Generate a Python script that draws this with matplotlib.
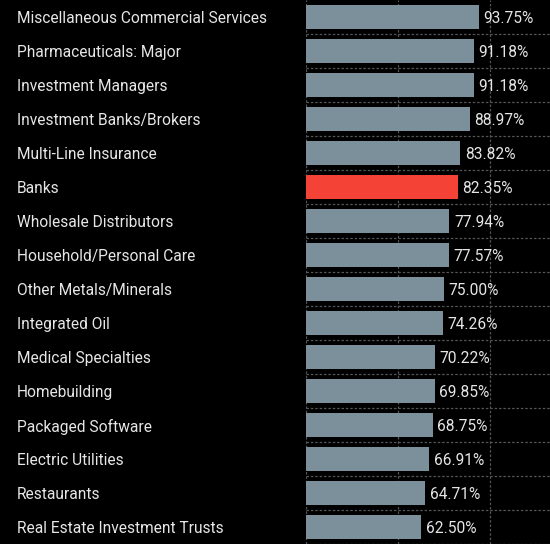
import matplotlib.pyplot as plt
from matplotlib.transforms import blended_transform_factory
import numpy as np

categories = ['Miscellaneous Commercial Services', 'Pharmaceuticals: Major',
              'Investment Managers', 'Investment Banks/Brokers',
              'Multi-Line Insurance', 'Banks', 'Wholesale Distributors',
              'Household/Personal Care', 'Other Metals/Minerals',
              'Integrated Oil', 'Medical Specialties', 'Homebuilding',
              'Packaged Software', 'Electric Utilities', 'Restaurants',
              'Real Estate Investment Trusts']
values = [93.75, 91.18, 91.18, 88.97, 83.82, 82.35, 77.94, 77.57,
          75.00, 74.26, 70.22, 69.85, 68.75, 66.91, 64.71, 62.50]
highlight = 'Banks'

plt.rcParams['font.family'] = ['Roboto', 'DejaVu Sans']

fig = plt.figure(figsize=(5.5, 5.44), dpi=100, facecolor='black')
ax = fig.add_axes([306 / 550, 0, 1 - 306 / 550, 1])
ax.set_facecolor('black')

y = np.arange(len(categories))
colors = ['#f44336' if c == highlight else '#7b909b' for c in categories]
ax.barh(y, values, height=0.7, color=colors, zorder=2)

ax.set_xlim(0, 132.6)
ax.set_ylim(len(categories) - 0.5, -0.5)

ax.set_xticks([0, 50, 100])
ax.set_yticks(y + 0.5)
ax.grid(True, color='#555555', linestyle=(0, (2, 1.5)), linewidth=0.9, zorder=0)
ax.tick_params(left=False, bottom=False, labelleft=False, labelbottom=False)
for s in ax.spines.values():
    s.set_visible(False)

for yi, v in zip(y, values):
    ax.text(v + 2.5, yi, f'{v:.2f}%', va='center_baseline', ha='left',
            color='#e6e6e6', fontsize=11.2)

trans = blended_transform_factory(fig.transFigure, ax.transData)
for yi, c in zip(y, categories):
    ax.text(17 / 550, yi, c, transform=trans, va='center_baseline', ha='left',
            color='#e6e6e6', fontsize=11.2, clip_on=False)

fig.savefig('out.png', dpi=100, facecolor='black')
